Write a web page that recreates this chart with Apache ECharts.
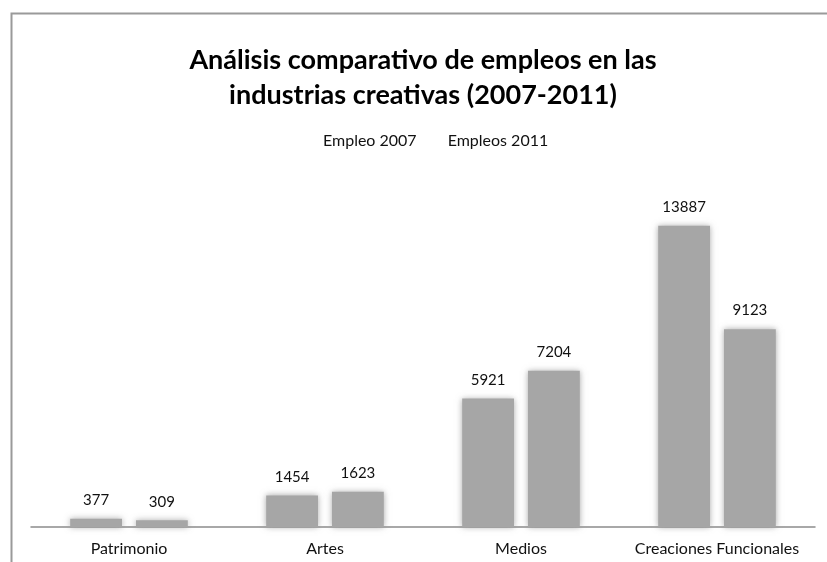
<!DOCTYPE html>
<html>
<head>
<meta charset="utf-8">
<script src="https://cdn.jsdelivr.net/npm/echarts@6/dist/echarts.min.js"></script>
<style>
  html, body { margin: 0; padding: 0; background: #fff; }
  #chart { width: 827px; height: 562px; }
</style>
</head>
<body>
<div id="chart"></div>
<script>
// Employment in creative industries, 2007 vs 2011
const categories = ['Patrimonio', 'Artes', 'Medios', 'Creaciones Funcionales'];
const empleo2007 = [377, 1454, 5921, 13887];
const empleos2011 = [309, 1623, 7204, 9123];
const seriesNames = ['Empleo 2007', 'Empleos 2011'];

const FONT = 'Lato, "Open Sans", sans-serif';
const barColor = '#a6a6a6';

const chart = echarts.init(document.getElementById('chart'), null, { renderer: 'canvas' });

function barSeries(name, values) {
  return {
    name: name,
    type: 'bar',
    data: values,
    barGap: '27%',
    barCategoryGap: '40%',
    itemStyle: {
      color: barColor,
      shadowBlur: 6,
      shadowColor: 'rgba(150,150,150,0.8)'
    },
    label: {
      show: true,
      position: 'top',
      distance: 11,
      color: '#111',
      fontFamily: FONT,
      fontSize: 15
    }
  };
}

chart.setOption({
  animation: false,
  backgroundColor: '#fff',
  title: {
    text: 'Análisis comparativo de empleos en las\nindustrias creativas (2007-2011)',
    left: 418,
    textAlign: 'center',
    top: 38,
    textStyle: {
      fontFamily: FONT,
      fontSize: 27,
      fontWeight: 'bold',
      color: '#000',
      lineHeight: 35
    }
  },
  legend: {
    data: seriesNames,
    top: 128,
    left: 313,
    icon: 'rect',
    itemWidth: 0,
    itemHeight: 0,
    itemGap: 26,
    textStyle: { fontFamily: FONT, fontSize: 16, color: '#111' }
  },
  grid: { left: 31, right: 12, top: 180, bottom: 35 },
  xAxis: {
    type: 'category',
    data: categories,
    axisLine: { lineStyle: { color: '#8c8c8c', width: 1.5 } },
    axisTick: { show: false },
    axisLabel: {
      interval: 0,
      hideOverlap: false,
      fontFamily: FONT,
      fontSize: 16,
      color: '#111',
      margin: 14
    }
  },
  yAxis: {
    type: 'value',
    min: 0,
    max: 16000,
    show: false,
    splitLine: { show: false }
  },
  series: [
    barSeries(seriesNames[0], empleo2007),
    barSeries(seriesNames[1], empleos2011)
  ],
  graphic: [{
    type: 'rect',
    left: 9,
    top: 11,
    shape: { width: 900, height: 700 },
    style: { fill: 'none', stroke: '#9a9a9a', lineWidth: 2 },
    silent: true
  }]
});
</script>
</body>
</html>
